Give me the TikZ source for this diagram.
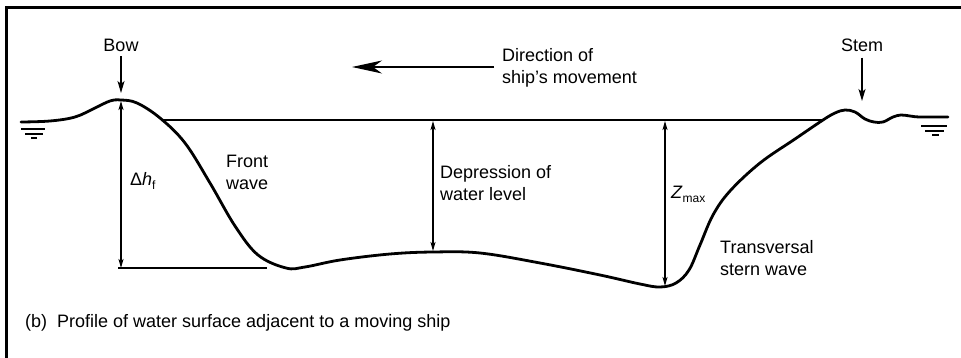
\documentclass[tikz,border=0pt]{standalone}
\usepackage{fontspec}
\setmainfont{Liberation Sans}
\usetikzlibrary{arrows.meta}
\newcommand{\subtxt}[1]{\raisebox{-0.4ex}{\fontsize{12}{12}\selectfont #1}}
\begin{document}
\begin{tikzpicture}[x=1pt,y=-1pt,
  lbl/.style={inner sep=0pt,font=\fontsize{18}{22}\selectfont,align=left},
  surf/.style={line width=2.8pt,line cap=round,line join=round},
  thin/.style={line width=1.1pt},
  dim/.style={line width=1.1pt,{Stealth[length=9pt,width=5pt,inset=2pt]}-{Stealth[length=9pt,width=5pt,inset=2pt]}},
  pointer/.style={line width=1.3pt,-{Stealth[length=12pt,width=7pt,inset=3pt]}},
  frame/.style={line width=3pt}]
\useasboundingbox (0,0) rectangle (961,358);
\fill[white] (0,0) rectangle (961,358);
% frame (top and left visible)
\draw[frame] (6.5,358) -- (6.5,7.5) -- (961,7.5);
% coordinates
\coordinate (crest) at (121,101);
\coordinate (hfbot) at (121,268);
\coordinate (still1) at (163,120);
\coordinate (still2) at (823,120);
\coordinate (low1) at (118,268);
\coordinate (low2) at (267,268);
\coordinate (dtop) at (433,121);
\coordinate (dbot) at (433,251);
\coordinate (ztop) at (665,121);
\coordinate (zbot) at (665,286);
% water surface profile
\draw[surf] plot[smooth,tension=0.6] coordinates {(21,122) (50,121) (75,117) (95,108) (110,101) (121,100) (137,103) (160,118) (185,143) (210,183) (235,226) (258,255) (286,268) (305,267) (340,260) (390,254) (433,252) (480,253) (540,263) (600,275) (640,284) (660,287) (676,283) (689,270) (700,245) (713,215) (730,191) (760,163) (795,139) (823,120) (835,113) (845,110) (855,112) (865,119) (874,122) (883,122) (893,117) (901,115) (910,116) (920,117) (948,117)};
% still water level lines
\draw[thin] (still1) -- (still2);
\draw[thin] (low1) -- (low2);
% water level symbols
\draw[thin] (21,129) -- (45,129) (25,134) -- (43,134) (31,138) -- (37,138);
\draw[thin] (921,126) -- (947,126) (925,131) -- (944,131) (932,135) -- (939,135);
% dimension arrows
\draw[dim] (crest) -- (hfbot);
\draw[dim] (dtop) -- (dbot);
\draw[dim] (ztop) -- (zbot);
% labels
\node[lbl] (bow) at (121,45) {Bow};
\node[lbl] (stem) at (862,45) {Stem};
\coordinate (bowtip) at (121,93);
\coordinate (stemtip) at (862,101);
\draw[pointer] (bow.south) ++(0,5) coordinate (bowtail) (bowtail) -- (bowtip);
\draw[pointer] (stem.south) ++(0,6) coordinate (stemtail) (stemtail) -- (stemtip);
\node[lbl,anchor=west] (dir) at (502,68) {Direction of\\ship's movement};
\coordinate (dirtip) at (352,67);
\draw[line width=1.3pt,-{Stealth[length=30pt,width=13pt,inset=9pt]}] (dir.west) ++(-8,-1) coordinate (dirtail) (dirtail) -- (dirtip);
\node[lbl,anchor=west] (fw) at (226,172) {Front\\wave};
\node[lbl,anchor=west] (dep) at (440,183) {Depression of\\water level};
\node[lbl,anchor=west] (dh) at (130,181) {Δ\textit{h}\subtxt{f}};
\node[lbl,anchor=west] (zm) at (671,194) {\textit{Z}\subtxt{max}};
\node[lbl,anchor=west] (tsw) at (720,258) {Transversal\\stern wave};
\node[lbl,anchor=west] (cap) at (25,323) {(b)\ \ Profile of water surface adjacent to a moving ship};
\end{tikzpicture}
\end{document}
